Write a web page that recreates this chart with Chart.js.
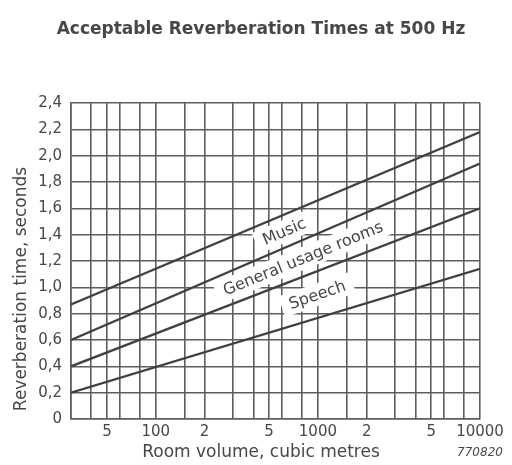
<!DOCTYPE html>
<html><head><meta charset="utf-8">
<script src="https://cdn.jsdelivr.net/npm/chart.js@4"></script>
<style>html,body{margin:0;padding:0;background:#fff}canvas{display:block}</style>
</head><body>
<canvas id="c" width="512" height="465"></canvas>
<script>
const chartTitle = 'Acceptable Reverberation Times at 500 Hz';
const xTitle = 'Room volume, cubic metres';
const yTitle = 'Reverberation time, seconds';
const figureCode = '770820';

const volumes = [30, 10000];
const musicUpper = [0.87, 2.18];
const musicGeneral = [0.60, 1.94];
const generalSpeech = [0.40, 1.60];
const speechLower = [0.20, 1.14];

const zoneNames = ['Music', 'General usage rooms', 'Speech'];
const zoneLabelVolumes = [620, 810, 990];

const xGridValues = [30,40,50,60,80,100,150,200,300,400,500,600,800,1000,1500,2000,3000,4000,5000,6000,8000,10000];
const xTickLabels = {50:'5',100:'100',200:'2',500:'5',1000:'1000',2000:'2',5000:'5',10000:'10000'};
const yTickValues = [0,0.2,0.4,0.6,0.8,1.0,1.2,1.4,1.6,1.8,2.0,2.2,2.4];
const yTickLabels = ['0','0,2','0,4','0,6','0,8','1,0','1,2','1,4','1,6','1,8','2,0','2,2','2,4'];

const INK = '#474747';
const GRID = '#5e5e5e';
const LINE = '#404040';
const FONT = '"DejaVu Sans", sans-serif';

const boundaries = [musicUpper, musicGeneral, generalSpeech, speechLower];

function valueAt(series, v) {
  const t = (Math.log10(v) - Math.log10(volumes[0])) / (Math.log10(volumes[1]) - Math.log10(volumes[0]));
  return series[0] + (series[1] - series[0]) * t;
}

const zonePlugin = {
  id: 'zones',
  beforeDatasetsDraw(chart) {
    const xs = chart.scales.x, ys = chart.scales.y, ctx = chart.ctx;
    ctx.save();
    ctx.font = '16px ' + FONT;
    zoneNames.forEach((name, i) => {
      const v = zoneLabelVolumes[i];
      const a = boundaries[i], b = boundaries[i + 1];
      const mid = (valueAt(a, v) + valueAt(b, v)) / 2;
      const px = xs.getPixelForValue(v), py = ys.getPixelForValue(mid);
      const dx = xs.getPixelForValue(volumes[1]) - xs.getPixelForValue(volumes[0]);
      const dy = ys.getPixelForValue((a[1] + b[1]) / 2) - ys.getPixelForValue((a[0] + b[0]) / 2);
      const ang = Math.atan2(dy, dx);
      ctx.save();
      ctx.translate(px, py);
      ctx.rotate(ang);
      const w = ctx.measureText(name).width;
      ctx.fillStyle = '#fff';
      ctx.fillRect(-w / 2 - 8, -11, w + 16, 22);
      ctx.fillStyle = INK;
      ctx.textAlign = 'center';
      ctx.textBaseline = 'middle';
      ctx.fillText(name, 0, 1);
      ctx.restore();
    });
    ctx.restore();
  }
};

const textPlugin = {
  id: 'texts',
  afterDraw(chart) {
    const ctx = chart.ctx;
    ctx.save();
    ctx.fillStyle = INK;
    ctx.textAlign = 'center';
    ctx.textBaseline = 'middle';
    ctx.font = 'bold 17px ' + FONT;
    ctx.fillText(chartTitle, 261, 30);
    ctx.font = '17px ' + FONT;
    ctx.fillText(xTitle, 261, 453);
    ctx.font = 'italic 12px ' + FONT;
    ctx.fillText(figureCode, 480, 453);
    ctx.save();
    ctx.translate(22, 289);
    ctx.rotate(-Math.PI / 2);
    ctx.font = '17px ' + FONT;
    ctx.fillText(yTitle, 0, 0);
    ctx.restore();
    ctx.restore();
  }
};

const mk = (label, series) => ({
  label,
  data: volumes.map((v, i) => ({ x: v, y: series[i] })),
  borderColor: LINE,
  borderWidth: 2.3,
  pointRadius: 0,
  fill: false,
  tension: 0
});

new Chart(document.getElementById('c'), {
  type: 'line',
  data: {
    datasets: [
      mk('Music upper limit', musicUpper),
      mk('Music / General usage', musicGeneral),
      mk('General usage / Speech', generalSpeech),
      mk('Speech lower limit', speechLower)
    ]
  },
  options: {
    responsive: false,
    animation: false,
    layout: { padding: { left: 0, right: 32, top: 103, bottom: 0 } },
    plugins: { legend: { display: false }, tooltip: { enabled: false }, title: { display: false } },
    scales: {
      x: {
        type: 'logarithmic',
        min: 30, max: 10000,
        afterFit(s) { s.height = 46; },
        afterBuildTicks(s) { s.ticks = xGridValues.map(v => ({ value: v })); },
        grid: { color: GRID, lineWidth: 1.6, drawTicks: false },
        border: { color: GRID, width: 1.6 },
        ticks: {
          autoSkip: false, maxRotation: 0, minRotation: 0, padding: 4,
          color: INK, font: { family: FONT, size: 15 },
          callback: (v) => xTickLabels[v] || ''
        }
      },
      y: {
        type: 'linear',
        min: 0, max: 2.4,
        afterFit(s) { s.width = 71; },
        afterBuildTicks(s) { s.ticks = yTickValues.map(v => ({ value: v })); },
        grid: { color: GRID, lineWidth: 1.6, drawTicks: false },
        border: { color: GRID, width: 1.6 },
        ticks: {
          padding: 9, color: INK, font: { family: FONT, size: 15 },
          callback: (v, i) => yTickLabels[i]
        }
      }
    }
  },
  plugins: [zonePlugin, textPlugin]
});
</script>
</body></html>
